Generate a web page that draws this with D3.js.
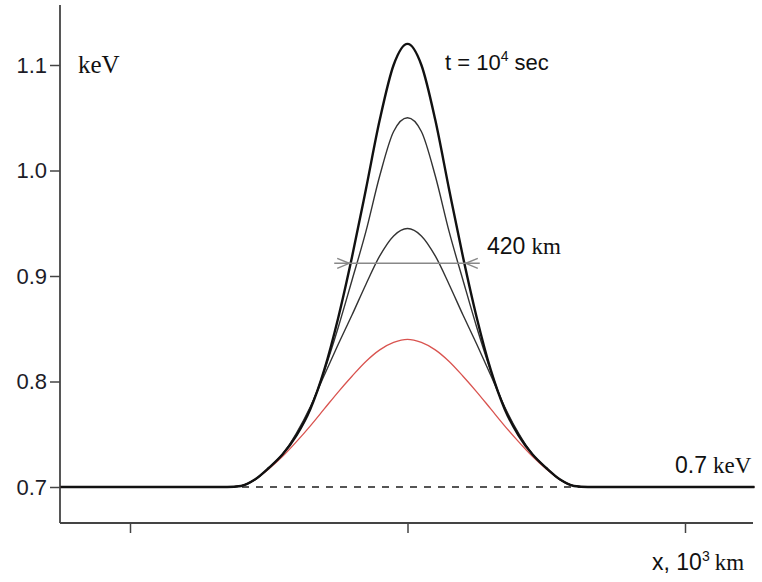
<!DOCTYPE html>
<html>
<head>
<meta charset="utf-8">
<script src="https://cdn.jsdelivr.net/npm/d3@7"></script>
<style>
  body { margin: 0; background: #fff; }
  .sans { font-family: "Liberation Sans", Arial, sans-serif; }
  .serif { font-family: "Liberation Serif", "Times New Roman", serif; }
</style>
</head>
<body>
<div class="canvas"></div>
<script>
// x positions, 10^3 km
const xs = [-1.25, -0.65, -0.6, -0.55, -0.5, -0.45, -0.4, -0.35, -0.3, -0.25, -0.2, -0.15, -0.1, -0.05, 0,
            0.05, 0.1, 0.15, 0.2, 0.25, 0.3, 0.35, 0.4, 0.45, 0.5, 0.55, 0.6, 0.65, 1.25];

// temperature profiles, keV
const initial = [0.700, 0.700, 0.701, 0.707, 0.717, 0.729, 0.743, 0.758, 0.774, 0.790, 0.805, 0.819, 0.830, 0.837, 0.840,
                 0.837, 0.830, 0.819, 0.805, 0.790, 0.774, 0.758, 0.743, 0.729, 0.717, 0.707, 0.701, 0.700, 0.700];
const stage2 = [0.700, 0.700, 0.701, 0.707, 0.718, 0.731, 0.751, 0.776, 0.806, 0.835, 0.863, 0.892, 0.919, 0.938, 0.945,
                0.938, 0.919, 0.892, 0.863, 0.835, 0.806, 0.776, 0.751, 0.731, 0.718, 0.707, 0.701, 0.700, 0.700];
const stage3 = [0.700, 0.700, 0.701, 0.707, 0.718, 0.731, 0.750, 0.775, 0.810, 0.851, 0.896, 0.942, 0.995, 1.037, 1.050,
                1.037, 0.995, 0.942, 0.896, 0.851, 0.810, 0.775, 0.750, 0.731, 0.718, 0.707, 0.701, 0.700, 0.700];
const final = [0.700, 0.700, 0.701, 0.707, 0.718, 0.731, 0.749, 0.774, 0.811, 0.860, 0.918, 0.982, 1.048, 1.100, 1.120,
               1.100, 1.048, 0.982, 0.918, 0.860, 0.811, 0.774, 0.749, 0.731, 0.718, 0.707, 0.701, 0.700, 0.700];

const yTicks = [0.7, 0.8, 0.9, 1.0, 1.1];
const xTicks = [-1, 0, 1];
const baseline = 0.7;
const fwhm = 0.42;       // 10^3 km
const halfLevel = 0.912; // keV

const svg = d3.select('.canvas')
    .append('svg')
    .attr('width', 762)
    .attr('height', 582);

const x = d3.scaleLinear().domain([-1, 1]).range([130, 685]);
const y = d3.scaleLinear().domain([0.7, 1.1]).range([487, 65]);

const frame = { left: 60, right: 753, top: 5, bottom: 523 };

// axes lines
svg.append('line')
    .attr('x1', frame.left).attr('x2', frame.left).attr('y1', frame.top).attr('y2', frame.bottom)
    .attr('stroke', '#444').attr('stroke-width', 1.8);
svg.append('line')
    .attr('x1', frame.left).attr('x2', frame.right).attr('y1', frame.bottom).attr('y2', frame.bottom)
    .attr('stroke', '#444').attr('stroke-width', 1.8);

// y ticks
const yAxis = svg.append('g')
    .attr('transform', `translate(${frame.left},0)`)
    .call(d3.axisLeft(y).tickValues(yTicks).tickFormat(d3.format('.1f')).tickSize(10).tickPadding(3));
yAxis.select('.domain').remove();
yAxis.selectAll('line').attr('stroke', '#444').attr('stroke-width', 1.5);
yAxis.selectAll('text')
    .attr('class', 'sans')
    .attr('font-size', 22)
    .attr('fill', '#1c1c28');

// x ticks
const xAxis = svg.append('g')
    .attr('transform', `translate(0,${frame.bottom})`)
    .call(d3.axisBottom(x).tickValues(xTicks).tickFormat('').tickSize(10));
xAxis.select('.domain').remove();
xAxis.selectAll('line').attr('stroke', '#444').attr('stroke-width', 1.5);

// dashed baseline
svg.append('line')
    .attr('x1', frame.left).attr('x2', frame.right)
    .attr('y1', y(baseline)).attr('y2', y(baseline))
    .attr('stroke', '#555').attr('stroke-width', 2)
    .attr('stroke-dasharray', '7,7');

const line = d3.line()
    .x((d, i) => x(xs[i]))
    .y(d => y(d))
    .curve(d3.curveMonotoneX);

const series = [
    { values: initial, colour: '#d9534f', width: 1.3 },
    { values: stage2, colour: '#333', width: 1.4 },
    { values: stage3, colour: '#333', width: 1.4 },
    { values: final, colour: '#111', width: 2.4 }
];

svg.selectAll('path.curve')
    .data(series)
    .enter()
    .append('path')
    .attr('class', 'curve')
    .attr('d', d => line(d.values))
    .attr('fill', 'none')
    .attr('stroke', d => d.colour)
    .attr('stroke-width', d => d.width);

// width marker
const hy = y(halfLevel);
const xl = x(-fwhm / 2), xr = x(fwhm / 2);
const marker = svg.append('g')
    .attr('stroke', '#888').attr('stroke-width', 1.5).attr('fill', 'none');
marker.append('line')
    .attr('x1', xl - 15).attr('x2', xr + 14).attr('y1', hy).attr('y2', hy);
marker.append('path')
    .attr('d', `M${xl - 12},${hy - 5}L${xl},${hy}L${xl - 12},${hy + 5}`);
marker.append('path')
    .attr('d', `M${xr + 12},${hy - 5}L${xr},${hy}L${xr + 12},${hy + 5}`);

// labels
svg.append('text')
    .attr('class', 'serif')
    .attr('x', 78).attr('y', 73)
    .attr('font-size', 25)
    .attr('fill', '#111')
    .text('keV');

const tLabel = svg.append('text')
    .attr('class', 'sans')
    .attr('x', 445).attr('y', 70)
    .attr('font-size', 22)
    .attr('fill', '#111');
tLabel.append('tspan').text('t = 10');
tLabel.append('tspan').attr('font-size', 14).attr('dy', -9).text('4');
tLabel.append('tspan').attr('dy', 9).attr('dx', 6).text('sec');

const wLabel = svg.append('text')
    .attr('x', 487).attr('y', 254)
    .attr('font-size', 23)
    .attr('fill', '#111');
wLabel.append('tspan').attr('class', 'sans').text('420');
wLabel.append('tspan').attr('class', 'serif').attr('dx', 6).text('km');

const bLabel = svg.append('text')
    .attr('x', 675).attr('y', 473)
    .attr('font-size', 23)
    .attr('fill', '#111');
bLabel.append('tspan').attr('class', 'sans').text('0.7');
bLabel.append('tspan').attr('class', 'serif').attr('dx', 6).text('keV');

const xLabel = svg.append('text')
    .attr('x', 652).attr('y', 570)
    .attr('font-size', 23)
    .attr('fill', '#111');
xLabel.append('tspan').attr('class', 'sans').text('x, 10');
xLabel.append('tspan').attr('class', 'sans').attr('font-size', 14).attr('dy', -9).text('3');
xLabel.append('tspan').attr('class', 'serif').attr('dy', 9).attr('dx', 5).text('km');
</script>
</body>
</html>
